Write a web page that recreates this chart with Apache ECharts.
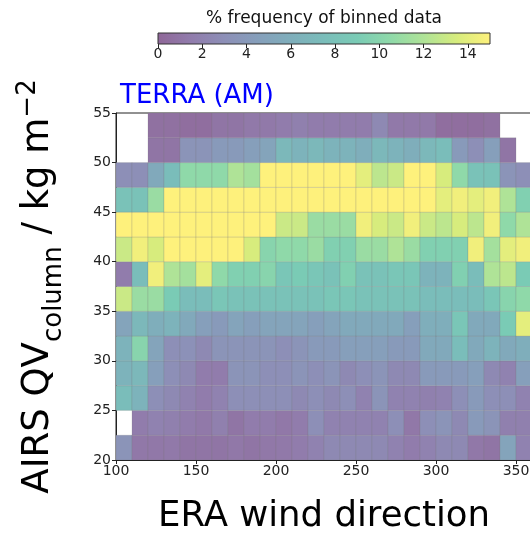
<!DOCTYPE html>
<html>
<head>
<meta charset="utf-8">
<script src="https://cdn.jsdelivr.net/npm/echarts@6/dist/echarts.min.js"></script>
<style>html,body{margin:0;padding:0;background:#fff;}#c{width:530px;height:533px;}</style>
</head>
<body>
<div id="c"></div>
<script>
// ---- data ----
const xBinStarts = [100,110,120,130,140,150,160,170,180,190,200,210,220,230,240,250,260,270,280,290,300,310,320,330,340,350];
const yBinStarts = [20,22.5,25,27.5,30,32.5,35,37.5,40,42.5,45,47.5,50,52.5];
const xBinWidth = 10;
const yBinHeight = 2.5;
// % frequency, rows from bottom (20) to top (52.5); null = no data
const freqRows = [
  [3.5,1.2,1.2,1.3,1.0,1.0,1.0,1.2,1.0,1.2,1.3,1.5,2.0,2.5,2.5,2.5,2.5,2.0,1.5,2.0,2.5,2.5,1.2,1.0,5.0,2.0],
  [null,1.5,2.0,1.8,1.5,1.3,1.8,1.0,1.5,1.5,1.2,1.5,3.0,2.0,2.0,2.0,2.0,3.0,1.2,3.0,3.5,2.5,4.0,3.5,1.8,1.8],
  [7.5,6.5,3.0,2.5,2.0,1.5,2.0,3.0,3.0,3.0,3.0,2.5,3.0,2.5,3.0,2.0,3.5,2.0,2.0,1.8,2.0,3.0,4.0,3.0,3.0,2.0],
  [6.5,7.0,4.5,3.0,2.5,1.5,1.5,3.5,3.5,3.0,3.0,3.5,3.0,3.5,2.5,3.0,3.5,2.5,2.5,4.0,4.0,4.0,4.5,2.5,2.0,4.5],
  [6.5,10.0,5.0,3.0,3.2,2.5,3.5,3.5,3.5,3.5,3.0,3.5,4.0,4.0,4.5,4.5,4.5,4.0,4.0,5.5,5.5,7.5,5.5,6.5,5.5,6.0],
  [5.0,7.0,6.0,6.5,5.5,4.5,4.0,5.0,4.5,5.0,5.0,5.0,4.5,5.0,5.5,5.5,5.5,5.5,4.5,6.0,6.0,8.5,5.5,5.5,9.0,14.0],
  [13.0,11.0,11.0,9.0,7.5,7.5,8.5,8.0,8.0,8.0,8.0,8.0,8.0,8.5,8.5,8.0,8.0,8.0,8.0,7.5,7.5,7.5,7.5,8.5,10.0,10.5],
  [1.5,7.5,14.5,12.0,11.5,14.0,10.5,9.5,9.5,10.0,8.5,9.0,8.5,8.0,9.5,8.0,8.0,8.5,8.5,6.5,6.5,9.5,7.5,12.0,12.5,9.0],
  [13.0,14.5,13.5,15.0,15.0,15.0,15.0,15.0,13.5,10.0,10.5,10.5,11.0,9.5,9.5,11.0,11.0,12.0,11.0,9.5,9.5,9.5,14.5,11.5,14.0,14.5],
  [15.0,15.0,15.0,15.0,15.0,15.0,15.0,15.0,15.0,15.0,13.0,13.0,11.0,11.0,11.0,14.5,13.5,13.0,14.5,13.0,12.5,13.5,12.5,14.5,10.5,12.0],
  [8.0,8.0,11.0,15.0,15.0,15.0,15.0,15.0,15.0,15.0,15.0,15.0,15.0,15.0,15.0,15.0,15.0,15.0,15.0,15.0,14.0,14.5,14.0,14.5,12.0,9.5],
  [3.0,3.0,5.5,7.5,10.5,10.5,10.5,12.0,11.5,15.0,15.0,15.0,15.0,15.0,15.0,14.0,12.5,13.0,15.0,15.0,13.5,10.5,8.0,8.0,3.5,3.0],
  [null,null,1.0,1.0,3.5,3.5,4.0,4.0,4.5,5.0,7.0,6.5,7.0,6.5,6.5,6.0,7.0,6.5,6.0,7.0,7.5,4.0,3.0,4.5,1.0,null],
  [null,null,0.7,0.7,0.5,0.5,1.0,1.0,1.3,1.3,1.5,1.8,1.5,1.5,1.5,1.5,2.5,1.3,1.3,1.3,0.5,0.5,0.5,0.7,null,null]
];
const xTicks = [100,150,200,250,300,350];
const yTicks = [20,25,30,35,40,45,50,55];
const cbTicks = [0,2,4,6,8,10,12,14];
const cbMin = 0, cbMax = 15;

// ---- viridis, drawn at alpha 0.6 over white ----
const viridis = ['#440154','#482475','#414487','#355f8d','#2a788e','#21918c','#22a884','#44bf70','#7ad151','#bddf26','#fde725'];
function fade(hex){
  const r=parseInt(hex.slice(1,3),16),g=parseInt(hex.slice(3,5),16),b=parseInt(hex.slice(5,7),16);
  const f=v=>Math.round(0.6*v+0.4*255);
  return 'rgb('+f(r)+','+f(g)+','+f(b)+')';
}
const cmap = viridis.map(fade);

const cells = [];
freqRows.forEach((row, j) => {
  row.forEach((v, i) => {
    if (v !== null) cells.push([xBinStarts[i], yBinStarts[j], v]);
  });
});

const FONT = 'DejaVu Sans';
const chart = echarts.init(document.getElementById('c'), null, {renderer:'canvas'});
chart.setOption({
  animation: false,
  backgroundColor: '#fff',
  title: [{
    text: 'TERRA (AM)', left: 120, top: 83, padding: 0,
    textStyle: {fontFamily: FONT, fontSize: 26, fontWeight: 'normal', color: '#0000ff'}
  }],
  grid: [
    {left: 116, top: 113, width: 416, height: 347, show: true, borderColor: '#222', borderWidth: 1,
     backgroundColor: 'transparent', containLabel: false, outerBoundsMode: 'none'},
    {left: 158, top: 33, width: 332, height: 11, show: false, containLabel: false, outerBoundsMode: 'none'}
  ],
  xAxis: [{
    gridIndex: 0, type: 'value', min: 100, max: 360, interval: 50,
    name: 'ERA wind direction', nameLocation: 'middle', nameGap: 39,
    nameTextStyle: {fontFamily: FONT, fontSize: 35.5, color: '#000'},
    axisLine: {show: true, onZero: false, lineStyle: {color: '#222', width: 1}},
    axisTick: {show: true, length: 4, inside: false, customValues: xTicks, lineStyle: {color: '#222'}},
    axisLabel: {fontFamily: FONT, fontSize: 14, color: '#222', margin: 4, customValues: xTicks},
    splitLine: {show: false}
  }, {
    gridIndex: 1, type: 'value', min: cbMin, max: cbMax, position: 'bottom',
    axisLine: {show: false},
    axisTick: {show: true, length: 4, customValues: cbTicks, lineStyle: {color: '#222'}},
    axisLabel: {fontFamily: FONT, fontSize: 14, color: '#222', margin: 3, customValues: cbTicks},
    splitLine: {show: false}
  }],
  yAxis: [{
    gridIndex: 0, type: 'value', min: 20, max: 55, interval: 5,
    name: '{a|AIRS QV}{b|column}{a| / kg m}{c|−2}',
    nameLocation: 'middle', nameRotate: 90, nameGap: 49,
    nameTextStyle: {
      fontFamily: FONT, fontSize: 37, color: '#000',
      rich: {
        a: {fontFamily: FONT, fontSize: 37, color: '#000', verticalAlign: 'top', padding: [5, 0, 0, 0]},
        b: {fontFamily: FONT, fontSize: 26, color: '#000', verticalAlign: 'top', padding: [26, 0, 0, 0]},
        c: {fontFamily: FONT, fontSize: 26, color: '#000', verticalAlign: 'top', padding: [0, 0, 0, 0]}
      }
    },
    axisLine: {show: true, onZero: false, lineStyle: {color: '#222', width: 1}},
    axisTick: {show: true, length: 4, customValues: yTicks, lineStyle: {color: '#222'}},
    axisLabel: {fontFamily: FONT, fontSize: 14, color: '#222', margin: 5, customValues: yTicks},
    splitLine: {show: false}
  }, {
    gridIndex: 1, type: 'value', min: 0, max: 1, show: false
  }],
  visualMap: {
    show: false, type: 'continuous', min: cbMin, max: cbMax, dimension: 2, seriesIndex: 0,
    inRange: {color: cmap}
  },
  graphic: [
    {
      type: 'rect', z: 10, silent: true,
      shape: {x: 158, y: 33, width: 332, height: 11},
      style: {
        fill: {type: 'linear', x: 0, y: 0, x2: 1, y2: 0,
          colorStops: cmap.map((c, k) => ({offset: k / (cmap.length - 1), color: c}))},
        stroke: '#333', lineWidth: 1
      }
    },
    {
      type: 'text', z: 10, x: 324, y: 10, silent: true,
      style: {text: '% frequency of binned data', fontFamily: FONT, fontSize: 17, fill: '#111', align: 'center', verticalAlign: 'top'}
    }
  ],
  series: [{
    type: 'custom', coordinateSystem: 'cartesian2d', xAxisIndex: 0, yAxisIndex: 0,
    clip: true,
    encode: {x: 0, y: 1},
    data: cells,
    renderItem: function (params, api) {
      const x0 = api.value(0), y0 = api.value(1);
      const p1 = api.coord([x0, y0 + yBinHeight]);
      const p2 = api.coord([x0 + xBinWidth, y0]);
      return {
        type: 'rect',
        shape: {x: p1[0], y: p1[1], width: p2[0] - p1[0], height: p2[1] - p1[1]},
        style: {fill: api.visual('color'), stroke: 'rgba(120,120,120,0.35)', lineWidth: 0.6}
      };
    }
  }]
});
</script>
</body>
</html>
